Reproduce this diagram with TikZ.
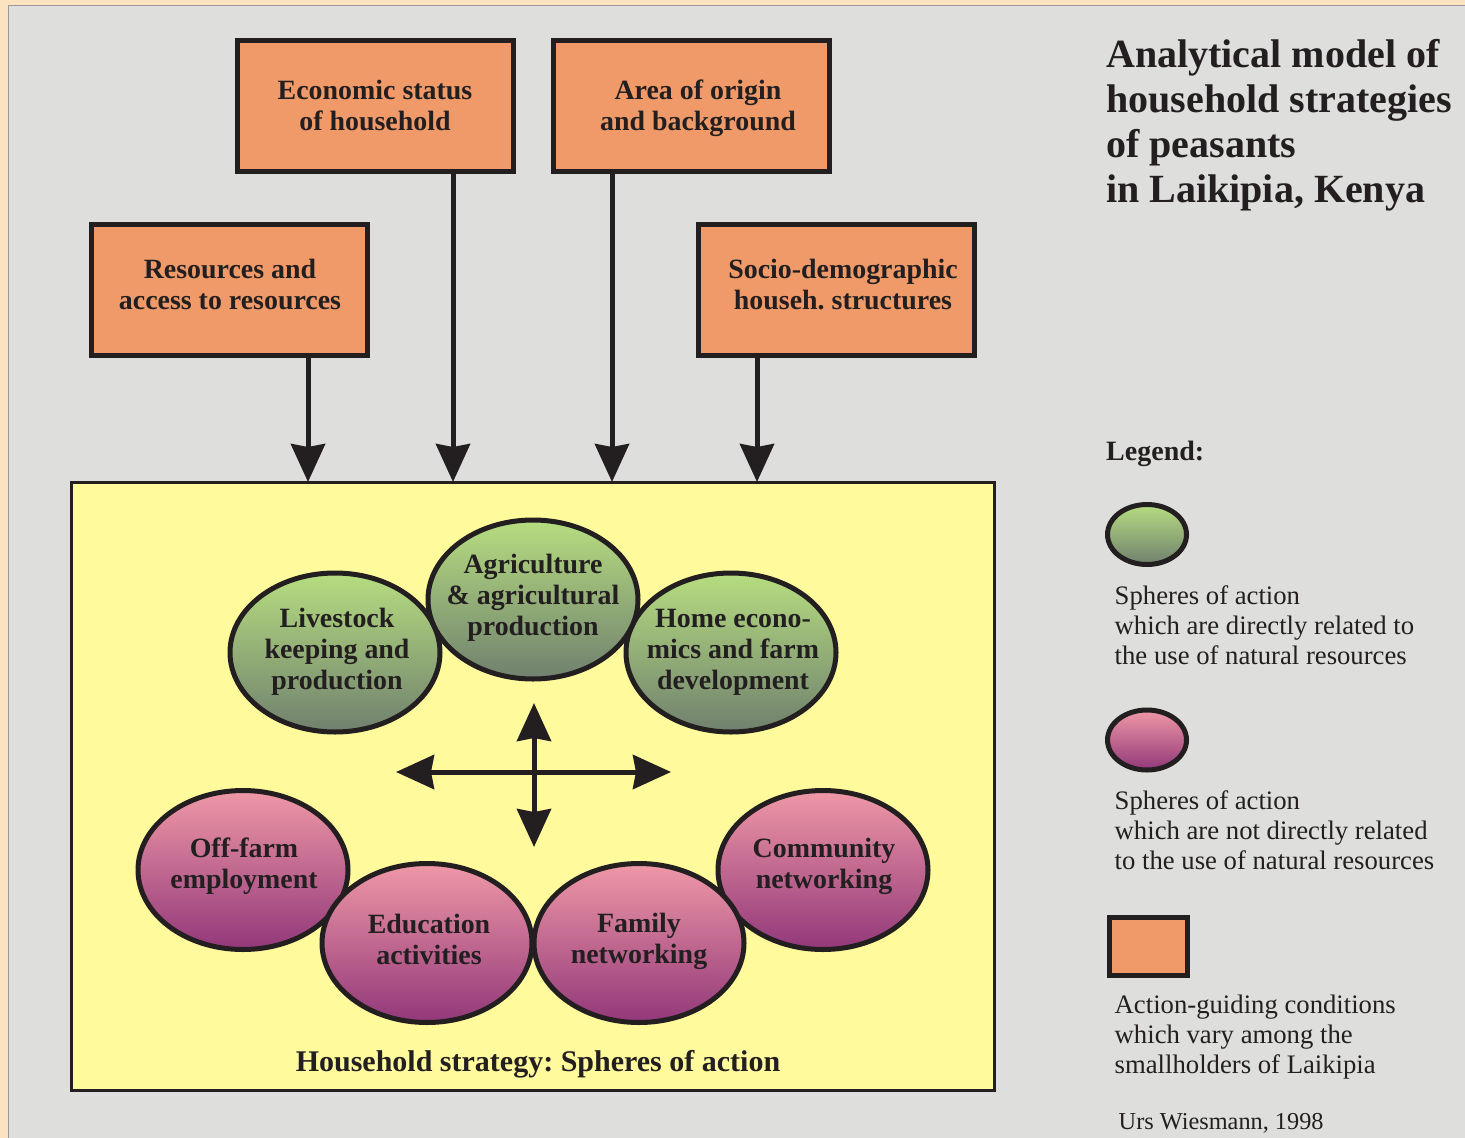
\documentclass[tikz,border=0pt]{standalone}
\usepackage{fontspec}
\setmainfont{Liberation Serif}
\usetikzlibrary{shapes.geometric,arrows.meta}
\AtBeginDocument{\frenchspacing}
\definecolor{cream}{HTML}{FBE3C0}
\definecolor{panel}{HTML}{DEDEDC}
\definecolor{ink}{HTML}{231F20}
\definecolor{orangebox}{HTML}{EF9A68}
\definecolor{yellowbox}{HTML}{FFFA9C}
\definecolor{greentop}{HTML}{B6DD80}
\definecolor{greenbot}{HTML}{70806E}
\definecolor{pinktop}{HTML}{EF98A6}
\definecolor{pinkbot}{HTML}{92387A}
\tikzset{
  x=1pt,y=-1pt,
  every node/.style={text=ink},
  condbox/.style={draw=ink,line width=5pt,fill=orangebox,rectangle,minimum width=276pt,minimum height=131pt,inner sep=0pt},
  cell/.style={font=\bfseries\fontsize{27.9}{31}\selectfont,align=center,inner sep=0pt},
  sph/.style={ellipse,draw=ink,line width=5pt,minimum width=210pt,minimum height=159pt,inner sep=0pt},
  sphgreen/.style={sph,top color=greentop,bottom color=greenbot},
  sphpink/.style={sph,top color=pinktop,bottom color=pinkbot},
  legtext/.style={font=\fontsize{26.7}{30}\selectfont,align=left,inner sep=0pt,anchor=west},
  legsph/.style={ellipse,draw=ink,line width=5pt,minimum width=79pt,minimum height=60pt,inner sep=0pt},
  bigarrow/.style={draw=ink,line width=5pt,-{Stealth[length=38pt,width=34pt,inset=3pt]}},
  dblarrow/.style={draw=ink,line width=5pt,{Stealth[length=38pt,width=34pt,inset=3pt]}-{Stealth[length=38pt,width=34pt,inset=3pt]}}
}
\begin{document}
\begin{tikzpicture}
\useasboundingbox (0,0) rectangle (1465,1138);
\fill[cream] (0,0) rectangle (1465,1138);
\draw[fill=panel,draw=gray!80,line width=0.8pt] (8,5) rectangle (1470,1145);
% yellow frame
\node[draw=ink,line width=3pt,fill=yellowbox,rectangle,minimum width=923pt,minimum height=608pt,inner sep=0pt] (frame) at (533,786.5) {};
% condition boxes
\node[condbox] (eco) at (375,105.5) {};
\node[cell] (ecot) at (375,105.5) {Economic status\\of household};
\node[condbox] (area) at (691.5,105.5) {};
\node[cell] (areat) at (698,108) {Area of origin\\and background};
\node[condbox] (res) at (229.5,290) {};
\node[cell] (rest) at (230,284) {Resources and\\access to resources};
\node[condbox] (soc) at (836.5,290) {};
\node[cell] (soct) at (843,285) {Socio-demographic\\househ. structures};
% arrows
\coordinate (a1) at (308,482);
\coordinate (a2) at (453,482);
\coordinate (a3) at (612,482);
\coordinate (a4) at (757,482);
\draw[bigarrow] (a1 |- res.south) -- (a1);
\draw[bigarrow] (a2 |- eco.south) -- (a2);
\draw[bigarrow] (a3 |- area.south) -- (a3);
\draw[bigarrow] (a4 |- soc.south) -- (a4);
% green ellipses
\node[sphgreen] (live) at (335,652.5) {};
\node[sphgreen] (home) at (731,652.5) {};
\node[sphgreen] (agri) at (533,599.5) {};
\node[cell] (livet) at (337,652) {Livestock\\keeping and\\production};
\node[cell] (homet) at (733,652) {Home econo-\\mics and farm\\development};
\node[cell] (agrit) at (533,597.5) {Agriculture\\\& agricultural\\production};
% pink ellipses
\node[sphpink] (off) at (243,870) {};
\node[sphpink] (comm) at (823,870) {};
\node[sphpink] (edu) at (427,943) {};
\node[sphpink] (fam) at (639,943) {};
\node[cell] (offt) at (244,866) {Off-farm\\employment};
\node[cell] (commt) at (824,866.5) {Community\\networking};
\node[cell] (edut) at (429,939) {Education\\activities};
\node[cell] (famt) at (639,941.5) {Family\\networking};
% cross
\coordinate (cl) at (396,772);
\coordinate (cr) at (671,772);
\coordinate (ct) at (534,703);
\coordinate (cb) at (534,847);
\draw[dblarrow] (cl) -- (cr);
\draw[dblarrow] (ct) -- (cb);
\node[font=\bfseries\fontsize{30}{31}\selectfont,inner sep=0pt] (cap) at (538,1064) {Household strategy: Spheres of action};
% title
\node[font=\bfseries\fontsize{40}{45}\selectfont,align=left,inner sep=0pt,anchor=west] (title) at (1106,125.5) {Analytical model of\\household strategies\\of peasants\\in Laikipia, Kenya};
% legend
\node[font=\bfseries\fontsize{28}{30}\selectfont,inner sep=0pt,anchor=west] (leg) at (1106,453.5) {Legend:};
\node[legsph,top color=greentop,bottom color=greenbot] (lg) at (1147,534.5) {};
\node[legtext] (lgt) at (1114.5,625) {Spheres of action\\which are directly related to\\the use of natural resources};
\node[legsph,top color=pinktop,bottom color=pinkbot] (lp) at (1147,740) {};
\node[legtext] (lpt) at (1114.5,830) {Spheres of action\\which are not directly related\\to the use of natural resources};
\node[rectangle,draw=ink,line width=5pt,fill=orangebox,minimum width=78pt,minimum height=58pt,inner sep=0pt] (lr) at (1148,946) {};
\node[legtext] (lrt) at (1114.5,1037) {Action-guiding conditions\\which vary among the\\smallholders of Laikipia};
\node[font=\fontsize{24.3}{30}\selectfont,inner sep=0pt,anchor=west] (by) at (1118.5,1123) {Urs Wiesmann, 1998};
\end{tikzpicture}
\end{document}
